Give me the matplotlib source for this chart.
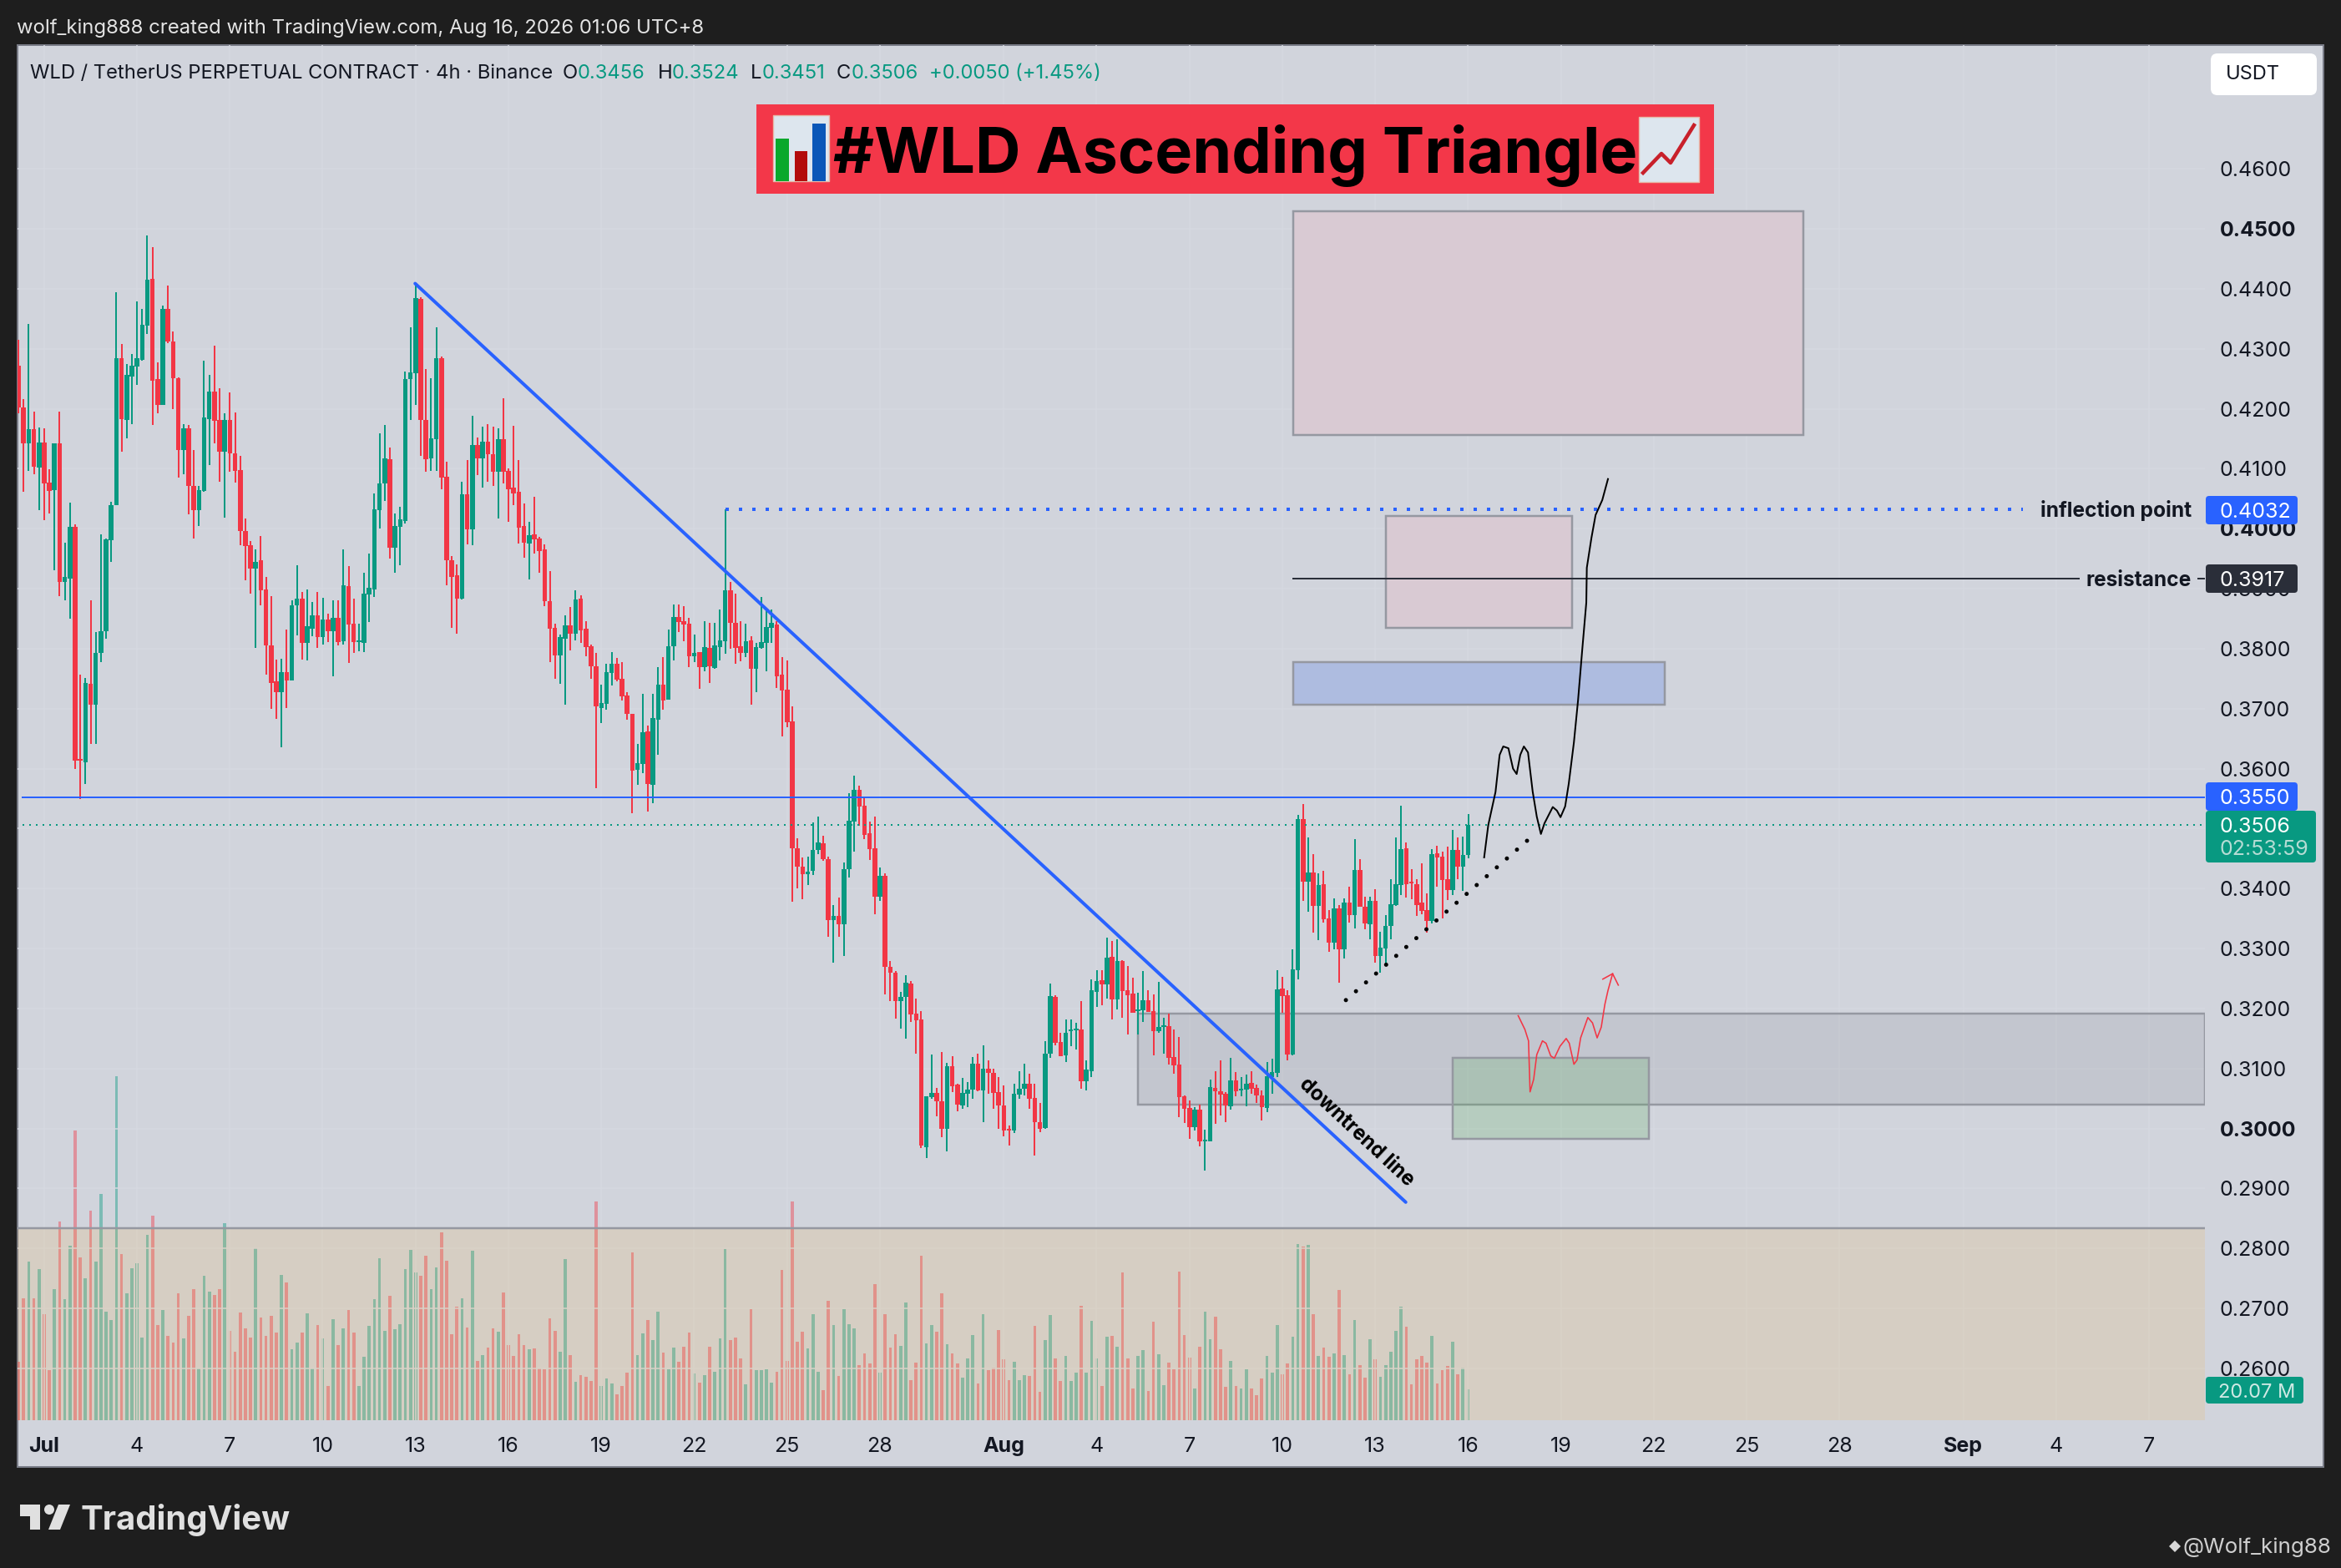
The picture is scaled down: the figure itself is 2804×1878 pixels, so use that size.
import matplotlib
matplotlib.use("Agg")
import matplotlib.pyplot as plt
from matplotlib.patches import Rectangle, FancyBboxPatch, Polygon, Circle
import numpy as np

plt.rcParams['font.family'] = ['Inter', 'DejaVu Sans']

# ---------- candles (4h bars) ----------
opens = [
.4272,.4203,.4142,.4166,.4102,.4144,.4077,.4065,.4142,.3912,
.3917,.4003,.3615,.3611,.3742,.3706,.3793,.3829,.3981,.4039,
.4284,.4182,.4254,.4271,.4282,.4339,.4417,.4249,.4206,.4366,
.4313,.4251,.4132,.4168,.4072,.4031,.4063,.4183,.4229,.4182,
.4128,.4182,.4126,.4098,.3996,.3973,.3934,.3947,.3899,.3805,
.3745,.3728,.3761,.3747,.3873,.3884,.3810,.3834,.3855,.3819,
.3849,.3829,.3852,.3812,.3904,.3842,.3811,.3809,.3891,.3899,
.4031,.4075,.4116,.3968,.4003,.4013,.4249,.4260,.4384,.4182,
.4118,.4150,.4284,.4087,.3948,.3923,.3884,.4058,.3999,.4140,
.4117,.4145,.4124,.4095,.4150,.4097,.4068,.4062,.4004,.3976,
.3991,.3984,.3966,.3879,.3835,.3789,.3817,.3839,.3825,.3884,
.3833,.3804,.3771,.3701,.3708,.3759,.3775,.3750,.3722,.3692,
.3598,.3608,.3662,.3573,.3682,.3740,.3715,.3804,.3853,.3846,
.3842,.3788,.3795,.3769,.3802,.3768,.3803,.3813,.3897,.3843,
.3804,.3793,.3814,.3767,.3801,.3809,.3835,.3841,.3757,.3732,
.3679,.3467,.3437,.3424,.3429,.3464,.3475,.3449,.3347,.3354,
.3340,.3432,.3512,.3565,.3538,.3492,.3467,.3387,.3421,.3270,
.3260,.3213,.3219,.3241,.3192,.3182,.2969,.3052,.3059,.3045,
.2999,.3104,.3073,.3038,.3058,.3065,.3108,.3064,.3100,.3093,
.3061,.3039,.2999,.2997,.3057,.3066,.3075,.3051,.3011,.3001,
.3124,.3220,.3144,.3122,.3162,.3163,.3165,.3078,.3096,.3228,
.3247,.3240,.3286,.3215,.3279,.3231,.3225,.3195,.3197,.3214,
.3196,.3162,.3169,.3171,.3119,.3107,.3053,.3034,.3002,.3032,
.2979,.2979,.3068,.3062,.3058,.3037,.3080,.3064,.3065,.3076,
.3068,.3055,.3034,.3086,.3093,.3233,.3222,.3123,.3264,.3516,
.3412,.3427,.3371,.3407,.3350,.3310,.3367,.3299,.3376,.3356,
.3431,.3370,.3341,.3380,.3288,.3300,.3337,.3373,.3406,.3467,
.3412,.3407,.3376,.3364,.3346,.3459,.3453,.3416,.3398,.3465,.3437,.3456]
highs = [
.4315,.4216,.4341,.4195,.4169,.4167,.4099,.4142,.4195,.3977,
.4043,.4008,.3757,.3751,.3880,.3828,.3991,.3984,.4045,.4395,
.4308,.4275,.4292,.4379,.4366,.4489,.4469,.4277,.4372,.4405,
.4329,.4252,.4175,.4173,.4131,.4071,.4280,.4256,.4305,.4235,
.4192,.4228,.4194,.4121,.4017,.3979,.3966,.3988,.3920,.3888,
.3782,.3783,.3832,.3881,.3939,.3895,.3899,.3878,.3895,.3885,
.3858,.3881,.3881,.3965,.3938,.3884,.3842,.3926,.3959,.4059,
.4159,.4173,.4135,.4026,.4037,.4262,.4336,.4410,.4386,.4267,
.4251,.4336,.4287,.4112,.3955,.3941,.4079,.4115,.4188,.4152,
.4170,.4175,.4170,.4168,.4218,.4100,.4172,.4115,.4042,.4011,
.4053,.3986,.3974,.3930,.3842,.3824,.3856,.3870,.3897,.3889,
.3846,.3807,.3793,.3740,.3775,.3795,.3784,.3778,.3727,.3692,
.3641,.3725,.3672,.3725,.3769,.3786,.3832,.3874,.3874,.3871,
.3851,.3824,.3795,.3846,.3843,.3843,.3866,.4032,.3912,.3892,
.3846,.3842,.3821,.3810,.3886,.3864,.3865,.3846,.3786,.3781,
.3704,.3484,.3452,.3453,.3510,.3520,.3488,.3453,.3372,.3385,
.3444,.3559,.3588,.3571,.3552,.3512,.3520,.3435,.3426,.3279,
.3262,.3227,.3255,.3246,.3217,.3195,.3053,.3123,.3067,.3127,
.3110,.3120,.3074,.3084,.3077,.3119,.3124,.3139,.3114,.3100,
.3086,.3072,.3005,.3075,.3096,.3108,.3091,.3075,.3043,.3146,
.3242,.3222,.3160,.3182,.3182,.3176,.3213,.3114,.3248,.3264,
.3264,.3318,.3313,.3316,.3281,.3271,.3251,.3226,.3263,.3231,
.3224,.3245,.3184,.3192,.3165,.3153,.3055,.3047,.3036,.3040,
.2998,.3082,.3096,.3114,.3060,.3118,.3094,.3086,.3090,.3096,
.3073,.3064,.3111,.3116,.3264,.3253,.3231,.3299,.3523,.3541,
.3485,.3458,.3426,.3430,.3364,.3384,.3373,.3383,.3403,.3483,
.3449,.3387,.3387,.3399,.3328,.3356,.3416,.3485,.3538,.3477,
.3433,.3416,.3442,.3392,.3466,.3472,.3462,.3470,.3498,.3485,.3487,.3524]
lows = [
.4192,.4061,.4097,.4091,.4031,.4014,.4026,.3931,.3888,.3881,
.3850,.3599,.3550,.3574,.3641,.3641,.3778,.3816,.3945,.4039,
.4128,.4151,.4174,.4240,.4280,.4325,.4173,.4193,.4206,.4310,
.4200,.4086,.4091,.4024,.3984,.4005,.4062,.4106,.4142,.4078,
.4019,.4095,.4077,.3973,.3914,.3892,.3802,.3873,.3757,.3700,
.3683,.3636,.3701,.3747,.3822,.3782,.3781,.3821,.3802,.3807,
.3811,.3754,.3806,.3807,.3776,.3793,.3796,.3794,.3845,.3886,
.4001,.4046,.3950,.3927,.3939,.4009,.4182,.4206,.4121,.4095,
.4096,.4096,.4066,.3906,.3835,.3825,.3882,.3974,.3972,.4090,
.4068,.4078,.4072,.4017,.4076,.4011,.4040,.3975,.3952,.3916,
.3959,.3927,.3871,.3778,.3750,.3742,.3706,.3797,.3814,.3810,
.3787,.3750,.3567,.3676,.3698,.3738,.3746,.3713,.3682,.3525,
.3573,.3592,.3528,.3543,.3623,.3698,.3715,.3781,.3828,.3812,
.3769,.3778,.3733,.3763,.3743,.3766,.3781,.3792,.3800,.3775,
.3779,.3786,.3706,.3728,.3800,.3763,.3810,.3735,.3654,.3669,
.3378,.3401,.3382,.3406,.3422,.3457,.3446,.3319,.3277,.3319,
.3288,.3419,.3462,.3505,.3483,.3447,.3357,.3380,.3224,.3213,
.3183,.3167,.3150,.3178,.3124,.2967,.2950,.3050,.3020,.2986,
.2962,.3060,.3029,.3033,.3035,.3050,.3062,.3010,.3058,.3033,
.2999,.2987,.2972,.2993,.3050,.3055,.3033,.2955,.2994,.3000,
.3118,.3139,.3121,.3111,.3137,.3132,.3066,.3064,.3086,.3203,
.3206,.3217,.3182,.3199,.3184,.3157,.3193,.3157,.3178,.3194,
.3122,.3160,.3125,.3107,.3091,.3019,.3009,.2983,.2997,.2970,
.2930,.2979,.3008,.3022,.3011,.3032,.3054,.3053,.3037,.3058,
.3043,.3013,.3027,.3058,.3086,.3193,.3114,.3122,.3249,.3380,
.3362,.3327,.3314,.3343,.3295,.3298,.3243,.3284,.3343,.3334,
.3370,.3332,.3316,.3277,.3260,.3272,.3316,.3371,.3389,.3385,
.3382,.3355,.3357,.3327,.3342,.3403,.3350,.3381,.3389,.3416,.3396,.3451]
closes = [
.4203,.4142,.4166,.4104,.4144,.4076,.4063,.4142,.3912,.3919,
.4003,.3613,.3613,.3743,.3707,.3793,.3829,.3983,.4040,.4284,
.4183,.4256,.4272,.4284,.4340,.4415,.4247,.4206,.4366,.4313,
.4251,.4132,.4168,.4072,.4031,.4065,.4185,.4229,.4180,.4128,
.4182,.4126,.4097,.3996,.3971,.3934,.3945,.3898,.3805,.3743,
.3728,.3761,.3747,.3873,.3884,.3810,.3837,.3855,.3819,.3849,
.3829,.3852,.3811,.3906,.3840,.3811,.3812,.3892,.3901,.4032,
.4076,.4118,.3968,.4005,.4016,.4250,.4261,.4385,.4182,.4116,
.4151,.4284,.4086,.3947,.3920,.3884,.4058,.3999,.4140,.4117,
.4145,.4124,.4095,.4150,.4095,.4066,.4059,.4002,.3977,.3989,
.3983,.3963,.3879,.3834,.3789,.3820,.3839,.3825,.3882,.3831,
.3803,.3771,.3704,.3710,.3761,.3775,.3748,.3721,.3691,.3597,
.3609,.3661,.3574,.3684,.3740,.3714,.3804,.3853,.3845,.3840,
.3788,.3793,.3769,.3803,.3770,.3805,.3814,.3897,.3843,.3802,
.3793,.3813,.3767,.3803,.3811,.3836,.3843,.3754,.3731,.3677,
.3467,.3437,.3424,.3428,.3464,.3477,.3449,.3347,.3354,.3340,
.3432,.3513,.3564,.3537,.3490,.3466,.3387,.3421,.3269,.3260,
.3213,.3220,.3243,.3190,.3181,.2971,.3053,.3059,.3045,.3000,
.3104,.3071,.3040,.3059,.3065,.3108,.3064,.3100,.3092,.3059,
.3038,.2997,.2997,.3058,.3066,.3075,.3050,.3010,.3000,.3125,
.3221,.3143,.3121,.3160,.3164,.3165,.3079,.3098,.3231,.3246,
.3240,.3285,.3215,.3279,.3229,.3222,.3193,.3199,.3214,.3194,
.3162,.3169,.3172,.3118,.3105,.3052,.3033,.3002,.3032,.2979,
.2981,.3069,.3062,.3057,.3038,.3080,.3062,.3066,.3075,.3066,
.3055,.3036,.3087,.3094,.3232,.3221,.3123,.3265,.3516,.3412,
.3427,.3371,.3406,.3349,.3310,.3367,.3299,.3376,.3356,.3431,
.3370,.3342,.3380,.3288,.3302,.3338,.3374,.3407,.3466,.3407,
.3409,.3373,.3363,.3346,.3458,.3452,.3414,.3398,.3465,.3437,.3456,.3506]
volumes_m = [
38.1,79.7,103.8,79.7,98.9,69.3,32.7,85.8,130.1,79.2,
114.2,189.8,106.6,92.9,137.2,103.8,148.2,71.0,65.5,225.4,
108.8,83.0,99.5,102.7,54.0,121.4,133.9,62.2,72.1,55.1,
50.7,83.0,53.5,68.2,85.8,33.8,94.5,84.1,81.9,85.8,
129.0,58.4,44.7,70.4,60.0,54.0,112.6,67.2,55.1,68.2,
57.3,95.1,90.1,46.4,50.7,57.3,69.9,33.8,62.2,53.5,
22.3,66.1,49.1,60.0,72.1,57.3,22.3,41.4,61.7,79.2,
106.0,58.4,81.4,59.5,62.8,98.9,111.5,96.7,94.5,107.7,
85.8,100.0,123.0,104.4,56.2,74.3,79.7,60.6,110.9,38.7,
42.5,47.4,60.0,57.8,83.6,49.1,42.0,56.2,49.1,46.4,
46.9,33.8,33.2,66.6,58.4,44.7,105.5,42.5,25.0,29.4,
28.3,25.5,143.2,22.3,27.2,23.9,16.8,22.3,31.0,109.9,
42.5,56.8,65.5,52.4,71.0,44.2,33.2,47.4,38.1,48.0,
57.3,30.5,24.5,29.4,48.0,31.6,53.5,112.0,52.4,54.0,
40.3,23.4,72.6,32.7,32.7,33.2,24.5,31.6,98.4,38.7,
143.6,51.3,57.8,46.9,69.3,31.6,19.5,78.1,62.2,28.8,
72.6,62.8,60.0,35.9,43.6,37.0,89.1,31.0,69.3,47.4,
56.2,48.5,77.0,26.1,37.6,107.7,50.2,62.2,57.8,83.0,
49.6,43.6,37.0,27.7,40.3,55.7,23.9,69.3,32.7,34.3,
58.9,39.8,26.1,38.1,26.1,29.4,28.8,61.7,18.4,52.4,
68.8,40.3,25.5,42.0,25.5,31.0,74.8,31.0,65.0,40.3,
22.3,54.6,55.1,48.0,96.7,40.3,20.6,42.0,45.8,19.0,
64.4,43.1,22.8,37.6,33.2,97.3,55.7,40.9,20.6,48.0,
71.0,52.9,67.7,46.4,21.7,38.7,22.3,20.6,33.2,20.6,
16.2,27.2,42.0,31.0,62.2,29.9,37.0,54.6,115.3,113.7,
114.8,69.3,42.0,47.4,41.4,43.6,85.2,42.5,29.9,65.5,
35.9,27.7,52.9,39.8,28.3,35.9,44.7,58.4,74.3,61.1,
23.4,39.8,42.0,37.6,55.1,23.9,32.7,35.4,51.3,29.9,34.3,20.07]

# ---------- axis labels ----------
price_ticks = [round(0.26 + 0.01 * k, 2) for k in range(21)]
bold_prices = [0.30, 0.40, 0.45]
tick_days = [0,3,6,9,12,15,18,21,24,27,31,34,37,40,43,46,49,52,55,58,62,65,68]
tick_labels = ['Jul','4','7','10','13','16','19','22','25','28','Aug','4','7','10','13','16','19','22','25','28','Sep','4','7']
month_labels = ['Jul','Aug','Sep']

# ---------- drawn levels / zones (bar index, price) ----------
level_support = 0.3552
level_inflection = 0.4032
level_resistance = 0.3917
level_last = 0.3506
trend_x = [76.9, 268.9]
trend_y = [0.4409, 0.2877]
dotted_x = [257.3, 294.3]
dotted_y = [0.3214, 0.3494]
sketch_black_x = [284.1,284.9,286.3,287.1,287.8,288.8,289.7,290.4,291.1,291.8,292.6,293.5,294.3,295.1,295.8,297.4,298.2,298.9,299.8,300.5,301.5,302.3,303.1,303.9,304.0,304.9,305.7,307.0,308.1]
sketch_black_y = [.3452,.3506,.3561,.3623,.3637,.3634,.3600,.3591,.3623,.3637,.3627,.3562,.3520,.3491,.3509,.3536,.3530,.3519,.3537,.3575,.3644,.3714,.3797,.3877,.3935,.3985,.4023,.4048,.4083]
sketch_red_x = [290.7,292.0,292.7,293.0,293.7,294.3,295.4,296.1,297.0,297.7,298.8,300.0,300.6,301.5,302.1,302.8,304.2,305.1,306.0,306.8,307.5,308.1,309.0]
sketch_red_y = [.3188,.3165,.3146,.3061,.3082,.3123,.3146,.3142,.3121,.3117,.3137,.3150,.3142,.3107,.3114,.3151,.3185,.3176,.3151,.3169,.3207,.3230,.3258]
arrow_x = [307.1,309.0,310.1]
arrow_y = [.3249,.3258,.3239]
zone_top_pink = (247.1, 346.0, 0.4156, 0.4529)
zone_mid_pink = (265.0, 301.1, 0.3835, 0.4021)
zone_blue = (247.1, 319.1, 0.3707, 0.3778)
zone_grey = (217.0, 423.8, 0.3040, 0.3192)
zone_green = (278.0, 316.0, 0.2983, 0.3117)
pane_top, pane_bottom = 0.28340, 0.25137

GREEN, RED, BLUE = '#089981', '#f23645', '#2962ff'
GRID, PANEL, DARK = '#d6d9e1', '#d1d4dc', '#1e1e1e'
EDGE, INK = '#9598a1', '#131722'
PX = 0.72  # points per pixel at dpi 100

W, H = 2804, 1878
fig = plt.figure(figsize=(W / 100, H / 100), dpi=100, facecolor=DARK)

def full_axes(z):
    a = fig.add_axes([0, 0, 1, 1], zorder=z)
    a.set_xlim(0, W); a.set_ylim(H, 0); a.axis('off')
    a.patch.set_alpha(0)
    return a

back = full_axes(0)
front = full_axes(10)
back.add_patch(Rectangle((21, 54), 2762, 1703, fc=PANEL, ec='#787b86', lw=2 * PX))

L, R, T, B = 21, 2641, 54, 1701
pos = [L / W, 1 - B / H, (R - L) / W, (B - T) / H]
xlim = (-0.162, 423.8)

# volume pane
axv = fig.add_axes(pos, zorder=1)
axv.patch.set_alpha(0)
axv.set_xlim(*xlim); axv.set_ylim(0, 901.5); axv.axis('off')

x = np.arange(len(closes))
o, h, l, c = map(np.array, (opens, highs, lows, closes))
up = c >= o
cols = np.where(up, GREEN, RED)
axv.bar(x, volumes_m, width=0.6, color=cols, alpha=0.42, linewidth=0)

# main price axes
ax = fig.add_axes(pos, zorder=2)
ax.patch.set_alpha(0)
ax.set_xlim(*xlim); ax.set_ylim(pane_bottom - 0.00003, 0.48066)
for s in ax.spines.values():
    s.set_visible(False)
xticks = [4.97 + 6 * d for d in tick_days]
ax.set_xticks(xticks); ax.set_xticklabels(tick_labels)
ax.set_yticks(price_ticks); ax.set_yticklabels([f'{p:.4f}' for p in price_ticks])
ax.yaxis.tick_right()
ax.tick_params(axis='y', length=0, pad=18 * PX, labelsize=18, labelcolor=INK)
ax.tick_params(axis='x', length=0, pad=20 * PX, labelsize=18, labelcolor=INK)
for t, p in zip(ax.get_yticklabels(), price_ticks):
    if p in bold_prices:
        t.set_fontweight('bold')
for t, s in zip(ax.get_xticklabels(), tick_labels):
    if s in month_labels:
        t.set_fontweight('bold')
ax.grid(True, color=GRID, lw=1.5 * PX, zorder=0)
ax.set_axisbelow(True)

# zones
def zone(z, fc, zo=2):
    ax.add_patch(Rectangle((z[0], z[2]), z[1] - z[0], z[3] - z[2], fc=fc, ec=EDGE, lw=2.5 * PX, zorder=zo))
ax.add_patch(Rectangle((xlim[0], pane_bottom), xlim[1] - xlim[0], pane_top - pane_bottom,
                       fc=(1, 0.63, 0, 0.11), ec='none', zorder=1))
ax.plot(xlim, [pane_top, pane_top], color=EDGE, lw=2.5 * PX, zorder=2)
zone(zone_top_pink, '#d9cad3')
zone(zone_mid_pink, '#d9cad3')
zone(zone_blue, '#aebce0')
zone(zone_grey, (0.47, 0.48, 0.53, 0.15))
zone(zone_green, (0.30, 0.69, 0.31, 0.20))

# candles
ax.vlines(x, l, h, colors=cols, lw=2 * PX, zorder=3)
ax.bar(x, np.maximum(np.abs(c - o), 0.00028), bottom=np.minimum(o, c), width=0.9,
       color=cols, linewidth=0, zorder=3)

# levels
ax.plot([0.8, xlim[1]], [level_support] * 2, color=BLUE, lw=2 * PX, zorder=4)
ax.plot([0.8, xlim[1]], [level_last] * 2, color=GREEN, lw=2 * PX, ls=(0, (1, 3)), zorder=4)
ax.plot([137, 388.5], [level_inflection] * 2, color=BLUE, lw=4 * PX, ls=(0, (1, 3)), zorder=4)
ax.plot([247.1, 399.4], [level_resistance] * 2, color='#2a2e39', lw=2 * PX, zorder=4)
ax.plot([422.5, xlim[1]], [level_resistance] * 2, color='#2a2e39', lw=2 * PX, zorder=4)
ax.plot(trend_x, trend_y, color=BLUE, lw=4 * PX, zorder=4, solid_capstyle='round')
ax.plot(dotted_x, dotted_y, color='black', lw=5 * PX, ls=(0, (0.01, 3.2)), dash_capstyle='round', zorder=5)
ax.plot(sketch_black_x, sketch_black_y, color='black', lw=2 * PX, zorder=5, solid_joinstyle='round')
ax.plot(sketch_red_x, sketch_red_y, color=RED, lw=1.6 * PX, zorder=5, solid_joinstyle='round')
ax.plot(arrow_x, arrow_y, color=RED, lw=1.6 * PX, zorder=5)
ax.text(259.4, 0.2993, 'downtrend line', rotation=-43, rotation_mode='anchor', ha='center', va='center',
        fontsize=17.5, fontweight='bold', color='black', zorder=6)

# labels at the right
front.text(2625, 611, 'inflection point', ha='right', va='center', fontsize=17.7, fontweight='bold', color=INK)
front.text(2625, 695, 'resistance', ha='right', va='center', fontsize=17.7, fontweight='bold', color=INK)

def box(x0, y0, x1, y1, fc, r=4):
    front.add_patch(FancyBboxPatch((x0, y0), x1 - x0, y1 - y0, boxstyle=f'round,pad=0,rounding_size={r}', fc=fc, ec='none'))

for y0, y1, fc, s in [(594, 628, BLUE, '0.4032'), (676, 710, '#2a2e39', '0.3917'), (937, 971, BLUE, '0.3550')]:
    box(2642, y0, 2752, y1, fc)
    front.text(2659, (y0 + y1) / 2, s, color='white', fontsize=18, va='center_baseline', ha='left')
box(2642, 971, 2774, 1033, GREEN)
front.text(2659, 988, '0.3506', color='white', fontsize=18, va='center_baseline', ha='left')
front.text(2659, 1015, '02:53:59', color='#b5dcd4', fontsize=18, va='center_baseline', ha='left')
box(2642, 1649, 2759, 1681, GREEN)
front.text(2657, 1665, '20.07 M', color='#cfe9e4', fontsize=17, va='center_baseline', ha='left')

box(2648, 64, 2775, 114, 'white', 8)
front.text(2666, 89, 'USDT', color=INK, fontsize=17, va='center', ha='left')

# header
front.text(20, 34, 'wolf_king888 created with TradingView.com, Aug 16, 2026 01:06 UTC+8', color='#e4e4e4',
           fontsize=17.2, va='center', ha='left')
front.text(36, 88, 'WLD / TetherUS PERPETUAL CONTRACT · 4h · Binance', color=INK, fontsize=17.1, va='center', ha='left')
for px, s, col in [(674, 'O', INK), (692, '0.3456', GREEN), (788, 'H', INK), (805, '0.3524', GREEN),
                   (899, 'L', INK), (913, '0.3451', GREEN), (1002, 'C', INK), (1020, '0.3506', GREEN),
                   (1113, '+0.0050 (+1.45%)', GREEN)]:
    front.text(px, 88, s, color=col, fontsize=17.1, va='center', ha='left')

# banner
front.add_patch(Rectangle((906, 125), 1147, 107, fc='#f33749', ec='none'))
front.text(998, 186, '#WLD Ascending Triangle', color='black', fontsize=54.3, fontweight='bold', va='center', ha='left')
front.add_patch(Rectangle((926, 138), 67, 79, fc='#dde6ee', ec='#e6b9a8', lw=1))
front.add_patch(Rectangle((929, 166), 16, 51, fc='#0aa82c', ec='none'))
front.add_patch(Rectangle((952, 181), 15, 36, fc='#b30c0c', ec='none'))
front.add_patch(Rectangle((973, 148), 16, 69, fc='#0a57b8', ec='none'))
front.add_patch(Rectangle((1963, 140), 72, 78, fc='#dde6ee', ec='#e6b9a8', lw=1))
front.plot([1968, 1990, 2001, 2029], [207, 184, 195, 150], color='#c8202a', lw=4.5 * PX)

# logo
logo = '#e0e0e0'
front.add_patch(Polygon([(24, 1802), (48, 1802), (48, 1832), (36, 1832), (36, 1816), (24, 1816)], fc=logo, ec='none'))
front.add_patch(Circle((59, 1808), 6, fc=logo, ec='none'))
front.add_patch(Polygon([(70, 1802), (84, 1802), (72, 1832), (58, 1832)], fc=logo, ec='none'))
front.text(96, 1820, 'TradingView', color=logo, fontsize=28.8, fontweight='bold', va='center', ha='left')

# watermark
front.add_patch(Polygon([(2605, 1845), (2612, 1852), (2605, 1859), (2598, 1852)], fc='#d8d8d8', ec='none'))
front.text(2614, 1853, '@Wolf_king88', color='#cfcfcf', fontsize=18.7, va='center', ha='left')

fig.savefig('out.png', dpi=100, facecolor=DARK)
